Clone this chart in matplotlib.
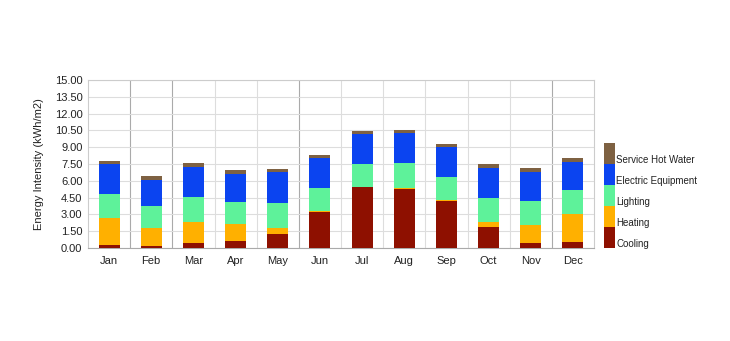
import matplotlib
matplotlib.use("Agg")
import matplotlib.pyplot as plt
import numpy as np
from matplotlib.patches import Rectangle

months = ["Jan", "Feb", "Mar", "Apr", "May", "Jun", "Jul", "Aug", "Sep", "Oct", "Nov", "Dec"]
cooling = [0.24, 0.21, 0.42, 0.60, 1.22, 3.19, 5.43, 5.31, 4.21, 1.91, 0.48, 0.54]
heating = [2.44, 1.58, 1.94, 1.55, 0.60, 0.09, 0.00, 0.05, 0.08, 0.42, 1.61, 2.50]
lighting = [2.15, 1.97, 2.23, 2.00, 2.24, 2.12, 2.09, 2.22, 2.09, 2.17, 2.15, 2.12]
equipment = [2.63, 2.35, 2.66, 2.47, 2.71, 2.62, 2.62, 2.65, 2.60, 2.66, 2.59, 2.56]
hot_water = [0.32, 0.30, 0.35, 0.30, 0.30, 0.27, 0.27, 0.33, 0.27, 0.30, 0.30, 0.30]

series = [
    ("Cooling", cooling, "#8e1000"),
    ("Heating", heating, "#ffb000"),
    ("Lighting", lighting, "#5ef29a"),
    ("Electric Equipment", equipment, "#0b44f0"),
    ("Service Hot Water", hot_water, "#7e6142"),
]
yticks = np.arange(0, 15.01, 1.5)

plt.rcParams["font.family"] = ["Liberation Sans", "DejaVu Sans"]
fig = plt.figure(figsize=(7.30, 3.41), dpi=100)
ax = fig.add_axes([88 / 730, 1 - 248 / 341, 506 / 730, 168 / 341])

x = np.arange(len(months))
bottom = np.zeros(len(months))
for name, vals, color in series:
    ax.bar(x, vals, width=0.5, bottom=bottom, color=color, zorder=3, linewidth=0)
    bottom += np.array(vals)

ax.set_xlim(-0.5, len(months) - 0.5)
ax.set_ylim(0, 15)
ax.set_yticks(yticks)
ax.set_yticklabels([f"{v:.2f}" for v in yticks])
ax.set_xticks(x)
ax.set_xticklabels(months)
ax.tick_params(length=0, labelsize=8, colors="#222222", pad=4)
ax.tick_params(axis="x", pad=6)
ax.grid(axis="y", color="#dddddd", linewidth=0.8, zorder=0)

# month separators, with heavier lines at some boundaries
dark_bounds = {1, 2, 5, 11}
for b in range(1, len(months)):
    c = "#aaaaaa" if b in dark_bounds else "#dddddd"
    ax.axvline(b - 0.5, color=c, linewidth=0.8, zorder=1)

for s in ["left", "top", "right"]:
    ax.spines[s].set_color("#cccccc")
    ax.spines[s].set_linewidth(0.8)
ax.spines["bottom"].set_color("#aaaaaa")
ax.spines["bottom"].set_linewidth(0.8)

ax.set_ylabel("Energy Intensity (kWh/m2)", fontsize=8, color="#222222", labelpad=8)

# stacked-swatch legend to the right of the plot
sw_x, sw_w, sw_h, sw_bottom = 604 / 730, 11 / 730, 21 / 341, 1 - 248 / 341
for i, (name, vals, color) in enumerate(series):
    y0 = sw_bottom + i * sw_h
    fig.patches.append(Rectangle((sw_x, y0), sw_w, sw_h, transform=fig.transFigure,
                                 facecolor=color, edgecolor="none"))
    fig.text(sw_x + sw_w + 1 / 730, y0 + 4 / 341, name, fontsize=7, color="#222222",
             ha="left", va="center")

fig.savefig("out.png", dpi=100, facecolor="white")
